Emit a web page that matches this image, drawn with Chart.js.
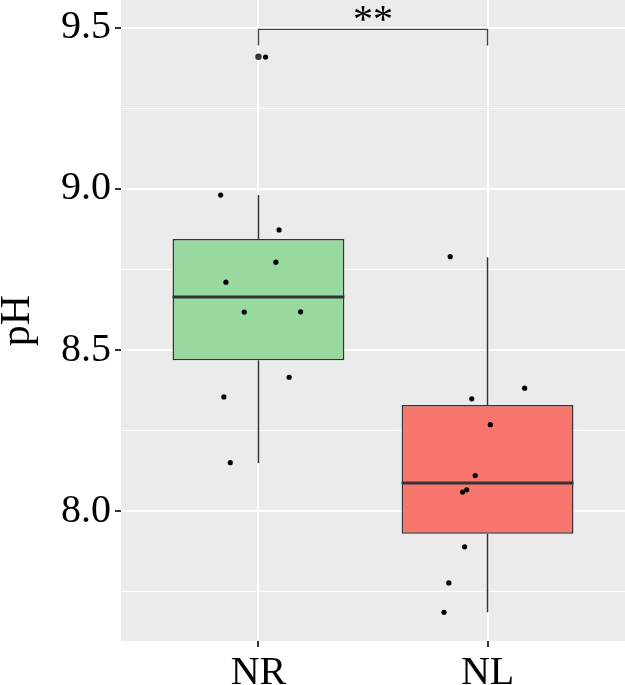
<!DOCTYPE html>
<html>
<head>
<meta charset="utf-8">
<script src="https://cdn.jsdelivr.net/npm/chart.js@4.4.1/dist/chart.umd.min.js"></script>
<style>
  html, body { margin: 0; padding: 0; background: #fff; }
  canvas { display: block; }
</style>
</head>
<body>
<canvas id="chart" width="625" height="685"></canvas>
<script>
// groups
const categories = ['NR', 'NL'];

// boxplot summary per group
const whiskerLow  = [8.150, 7.687];
const q1          = [8.469, 7.931];
const median      = [8.665, 8.088];
const q3          = [8.845, 8.330];
const whiskerHigh = [8.981, 8.788];
const outliers    = [[9.410], []];

// jittered observations: value and horizontal jitter (in category units)
const nrValues = [8.981, 8.873, 8.773, 8.711, 8.618, 8.619, 8.416, 8.355, 8.151, 9.409];
const nrJitter = [-0.165, 0.090, 0.076, -0.142, -0.062, 0.184, 0.134, -0.151, -0.123, 0.031];
const nlValues = [8.790, 8.382, 8.349, 8.269, 8.111, 8.067, 8.060, 7.890, 7.778, 7.687];
const nlJitter = [-0.163, 0.162, -0.069, 0.012, -0.054, -0.091, -0.109, -0.100, -0.169, -0.190];

// axis
const yMajorTicks = [8.0, 8.5, 9.0, 9.5];
const yMinorTicks = [7.75, 8.25, 8.75, 9.25];
const yMin = 7.598, yMax = 9.586;

// significance bracket
const sigPair = [0, 1];
const sigY = 9.495;
const sigTipY = 9.445;
const sigLabel = '**';

const BOX_WIDTH = 0.75;
const INK = '#333333';
const SERIF = '"Liberation Serif", "Times New Roman", serif';

function segment(x1, y1, x2, y2, width, order) {
  return {
    type: 'line',
    data: [{ x: x1, y: y1 }, { x: x2, y: y2 }],
    borderColor: INK, borderWidth: width,
    pointRadius: 0, fill: false, tension: 0, order: order
  };
}

const datasets = [];

// jitter points on top
[[nrValues, nrJitter], [nlValues, nlJitter]].forEach(([vals, jit], i) => {
  datasets.push({
    type: 'scatter',
    data: vals.map((v, k) => ({ x: i + jit[k], y: v })),
    backgroundColor: '#000', borderWidth: 0, pointRadius: 2.6, order: 0
  });
});

// boxplot outliers
datasets.push({
  type: 'scatter',
  data: outliers.flatMap((arr, i) => arr.map(v => ({ x: i, y: v }))),
  backgroundColor: INK, borderWidth: 0, pointRadius: 3.2, order: 1
});

// medians
categories.forEach((c, i) => {
  datasets.push(segment(i - BOX_WIDTH / 2, median[i], i + BOX_WIDTH / 2, median[i], 3, 2));
});

// boxes
datasets.push({
  type: 'bar',
  data: categories.map((c, i) => ({ x: i, y: [q1[i], q3[i]] })),
  backgroundColor: ['#98D9A0', '#F8766D'],
  borderColor: INK, borderWidth: 1.5, borderSkipped: false,
  barPercentage: BOX_WIDTH, categoryPercentage: 1, order: 3
});

// whiskers
categories.forEach((c, i) => {
  datasets.push(segment(i, q3[i], i, whiskerHigh[i], 1.5, 4));
  datasets.push(segment(i, q1[i], i, whiskerLow[i], 1.5, 4));
});

// significance bracket
datasets.push({
  type: 'line',
  data: [
    { x: sigPair[0], y: sigTipY }, { x: sigPair[0], y: sigY },
    { x: sigPair[1], y: sigY }, { x: sigPair[1], y: sigTipY }
  ],
  borderColor: '#444', borderWidth: 1.4, pointRadius: 0, fill: false, tension: 0, order: 0
});

const panelBg = {
  id: 'panelBg',
  beforeDraw(chart) {
    const { ctx, chartArea: a } = chart;
    ctx.save();
    ctx.fillStyle = '#fff';
    ctx.fillRect(0, 0, chart.width, chart.height);
    ctx.fillStyle = '#EBEBEB';
    ctx.fillRect(a.left, a.top, a.right - a.left, a.bottom - a.top);
    ctx.restore();
  }
};

const sigText = {
  id: 'sigText',
  afterDatasetsDraw(chart) {
    const { ctx, scales } = chart;
    const x = scales.x.getPixelForValue((sigPair[0] + sigPair[1]) / 2);
    const y = scales.y.getPixelForValue(sigY);
    ctx.save();
    ctx.font = '40px ' + SERIF;
    ctx.fillStyle = '#000';
    ctx.textAlign = 'center';
    ctx.textBaseline = 'alphabetic';
    ctx.fillText(sigLabel, x, y + 2.5);
    ctx.restore();
  }
};

const isMajor = v => yMajorTicks.some(t => Math.abs(t - v) < 1e-6);

new Chart(document.getElementById('chart'), {
  type: 'scatter',
  data: { datasets },
  plugins: [panelBg, sigText],
  options: {
    responsive: false,
    animation: false,
    devicePixelRatio: 1,
    layout: { padding: 0, autoPadding: false },
    plugins: { legend: { display: false }, tooltip: { enabled: false } },
    scales: {
      x: {
        type: 'linear', min: -0.6, max: 1.6, offset: false,
        afterBuildTicks: s => { s.ticks = categories.map((c, i) => ({ value: i })); },
        ticks: {
          autoSkip: false, padding: 2, color: '#000', maxRotation: 0,
          font: { family: SERIF, size: 40 },
          callback: v => categories[v]
        },
        grid: { offset: false, color: '#fff', lineWidth: 2, tickColor: INK, tickLength: 6, tickWidth: 2 },
        border: { display: false },
        afterFit: s => { s.height = 44; s.paddingLeft = 0; s.paddingRight = 0; }
      },
      y: {
        type: 'linear', min: yMin, max: yMax,
        afterBuildTicks: s => {
          s.ticks = [...yMinorTicks, ...yMajorTicks].sort((a, b) => a - b).map(v => ({ value: v }));
        },
        ticks: {
          autoSkip: false, padding: 4, color: '#000',
          font: { family: SERIF, size: 40 },
          callback: v => isMajor(v) ? v.toFixed(1) : ''
        },
        grid: {
          color: '#fff',
          lineWidth: c => isMajor(c.tick.value) ? 2 : 1,
          tickColor: c => isMajor(c.tick.value) ? INK : 'rgba(0,0,0,0)',
          tickLength: 6, tickWidth: 2
        },
        border: { display: false },
        title: {
          display: true, text: 'pH', color: '#000', padding: { top: -7, bottom: 0 },
          font: { family: SERIF, size: 42 }
        },
        afterFit: s => { s.width = 121; s.paddingTop = 0; s.paddingBottom = 0; }
      }
    }
  }
});
</script>
</body>
</html>
